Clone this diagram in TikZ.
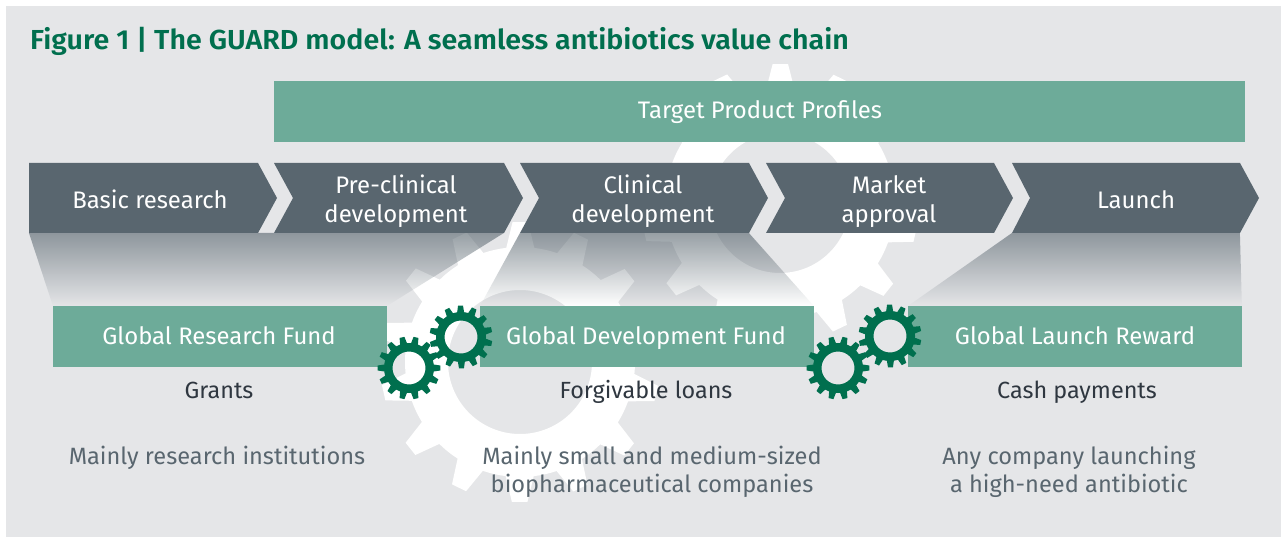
\documentclass[tikz,border=0pt]{standalone}
\usepackage{fontspec}
\setmainfont{Fira Sans}[BoldFont={Fira Sans SemiBold}]
\newfontfamily\titlefont{Fira Sans SemiBold}[FakeStretch=1.04]
\usetikzlibrary{fadings}
\definecolor{panelgray}{HTML}{E5E6E8}
\definecolor{slate}{HTML}{59666F}
\definecolor{teal}{HTML}{6DAB99}
\definecolor{deepgreen}{HTML}{006F4E}
\definecolor{inkdark}{HTML}{2F3740}
\tikzfading[name=fadedown, top color=transparent!38, bottom color=transparent!100]
\newcommand{\gearshape}[8]{%
  % #1 color, #2 cx, #3 cy, #4 teeth, #5 tip r, #6 root r, #7 hole r, #8 rot
  \begin{scope}[shift={(#2,#3)}]
    \fill[#1,even odd rule] ({#8-\gearra}:#6)
      \foreach \i in {1,...,#4} {
        -- ({#8+(\i-1)*360/#4-\gearra}:#6)
        -- ({#8+(\i-1)*360/#4-\gearta}:#5)
        -- ({#8+(\i-1)*360/#4+\gearta}:#5)
        -- ({#8+(\i-1)*360/#4+\gearra}:#6)
        -- ({#8+(\i-1)*360/#4+\gearra+0.25*(360/#4-2*\gearra)}:#6)
        -- ({#8+(\i-1)*360/#4+\gearra+0.5*(360/#4-2*\gearra)}:#6)
        -- ({#8+(\i-1)*360/#4+\gearra+0.75*(360/#4-2*\gearra)}:#6)
      } -- cycle (0,0) circle[radius=#7];
  \end{scope}}
\tikzset{
  x=1pt,y=-1pt,
  chevronbox/.style={fill=slate},
  tealbar/.style={fill=teal},
  fadeband/.style={fill=slate,path fading=fadedown,fit fading=true},
  whitelabel/.style={text=white,font=\fontsize{23.9}{29}\selectfont,align=center,anchor=center,inner sep=0pt},
  darklabel/.style={text=inkdark,font=\fontsize{23.4}{29}\selectfont,align=center,anchor=center,inner sep=0pt},
  greylabel/.style={text=slate,font=\fontsize{23.6}{28}\selectfont,align=center,anchor=center,inner sep=0pt},
  titlelabel/.style={text=deepgreen,font=\titlefont\fontsize{27.5}{30}\selectfont,anchor=base west,inner sep=0pt}
}
\begin{document}
\begin{tikzpicture}
\useasboundingbox (0,0) rectangle (1281,537);
\fill[white] (0,0) rectangle (1281,537);
\fill[panelgray] (6,6) rectangle (1281,537);
% big background gears
\def\gearta{3.2}\def\gearra{7}
\gearshape{white}{780}{203}{14}{139}{115}{70}{13}
\gearshape{white}{520}{362}{14}{140}{115}{72}{13}
% fading bands
\fill[fadeband] (29,233) -- (504,233) -- (387,306) -- (53,306) -- cycle;
\fill[fadeband] (520,233) -- (749,233) -- (814,306) -- (480,306) -- cycle;
\fill[fadeband] (1012,233) -- (1240,233) -- (1242,306) -- (908,306) -- cycle;
% chevrons
\fill[chevronbox] (29,163) -- (258,163) -- (277,198) -- (258,233) -- (29,233) -- cycle;
\fill[chevronbox] (274,163) -- (504,163) -- (523,198) -- (504,233) -- (274,233) -- (293,198) -- cycle;
\fill[chevronbox] (520,163) -- (749,163) -- (768,198) -- (749,233) -- (520,233) -- (539,198) -- cycle;
\fill[chevronbox] (766,163) -- (994,163) -- (1013,198) -- (994,233) -- (766,233) -- (785,198) -- cycle;
\fill[chevronbox] (1012,163) -- (1240,163) -- (1259,198) -- (1240,233) -- (1012,233) -- (1030,198) -- cycle;
% bars
\fill[tealbar] (274,81) rectangle (1245,142);
\fill[tealbar] (53,306) rectangle (387,367);
\fill[tealbar] (480,306) rectangle (814,367);
\fill[tealbar] (908,306) rectangle (1242,367);
% small green gears
\def\gearta{4.5}\def\gearra{8}
\gearshape{deepgreen}{409}{368}{14}{31.5}{25}{16.5}{0}
\gearshape{deepgreen}{461}{337}{14}{31.5}{25}{16.5}{12}
\gearshape{deepgreen}{838}{368}{14}{31.5}{25}{16.5}{0}
\gearshape{deepgreen}{890}{336}{14}{31.5}{25}{16.5}{12}
% text
\node[titlelabel] (title) at (30,50) {Figure 1 | The GUARD model: A seamless antibiotics value chain};
\node[whitelabel] (tpp) at (760,112.5) {Target Product Profiles};
\node[whitelabel] (basic) at (150,199.5) {Basic research};
\node[whitelabel] (pre) at (396,201.5) {Pre-clinical\\development};
\node[whitelabel] (clin) at (643,201.5) {Clinical\\development};
\node[whitelabel] (mkt) at (889,201.5) {Market\\approval};
\node[whitelabel] (launch) at (1136,199.5) {Launch};
\node[whitelabel] (grf) at (219,336) {Global Research Fund};
\node[whitelabel] (gdf) at (646,338) {Global Development Fund};
\node[whitelabel] (glr) at (1075,336) {Global Launch Reward};
\node[darklabel] (grants) at (219,390) {Grants};
\node[darklabel] (loans) at (646,391.5) {Forgivable loans};
\node[darklabel] (cash) at (1077,392.5) {Cash payments};
\node[greylabel] (ri) at (217,457.5) {Mainly research institutions};
\node[greylabel] (sm) at (652,471.5) {Mainly small and medium-sized\\biopharmaceutical companies};
\node[greylabel] (any) at (1069,471.5) {Any company launching\\a high-need antibiotic};
\end{tikzpicture}
\end{document}
